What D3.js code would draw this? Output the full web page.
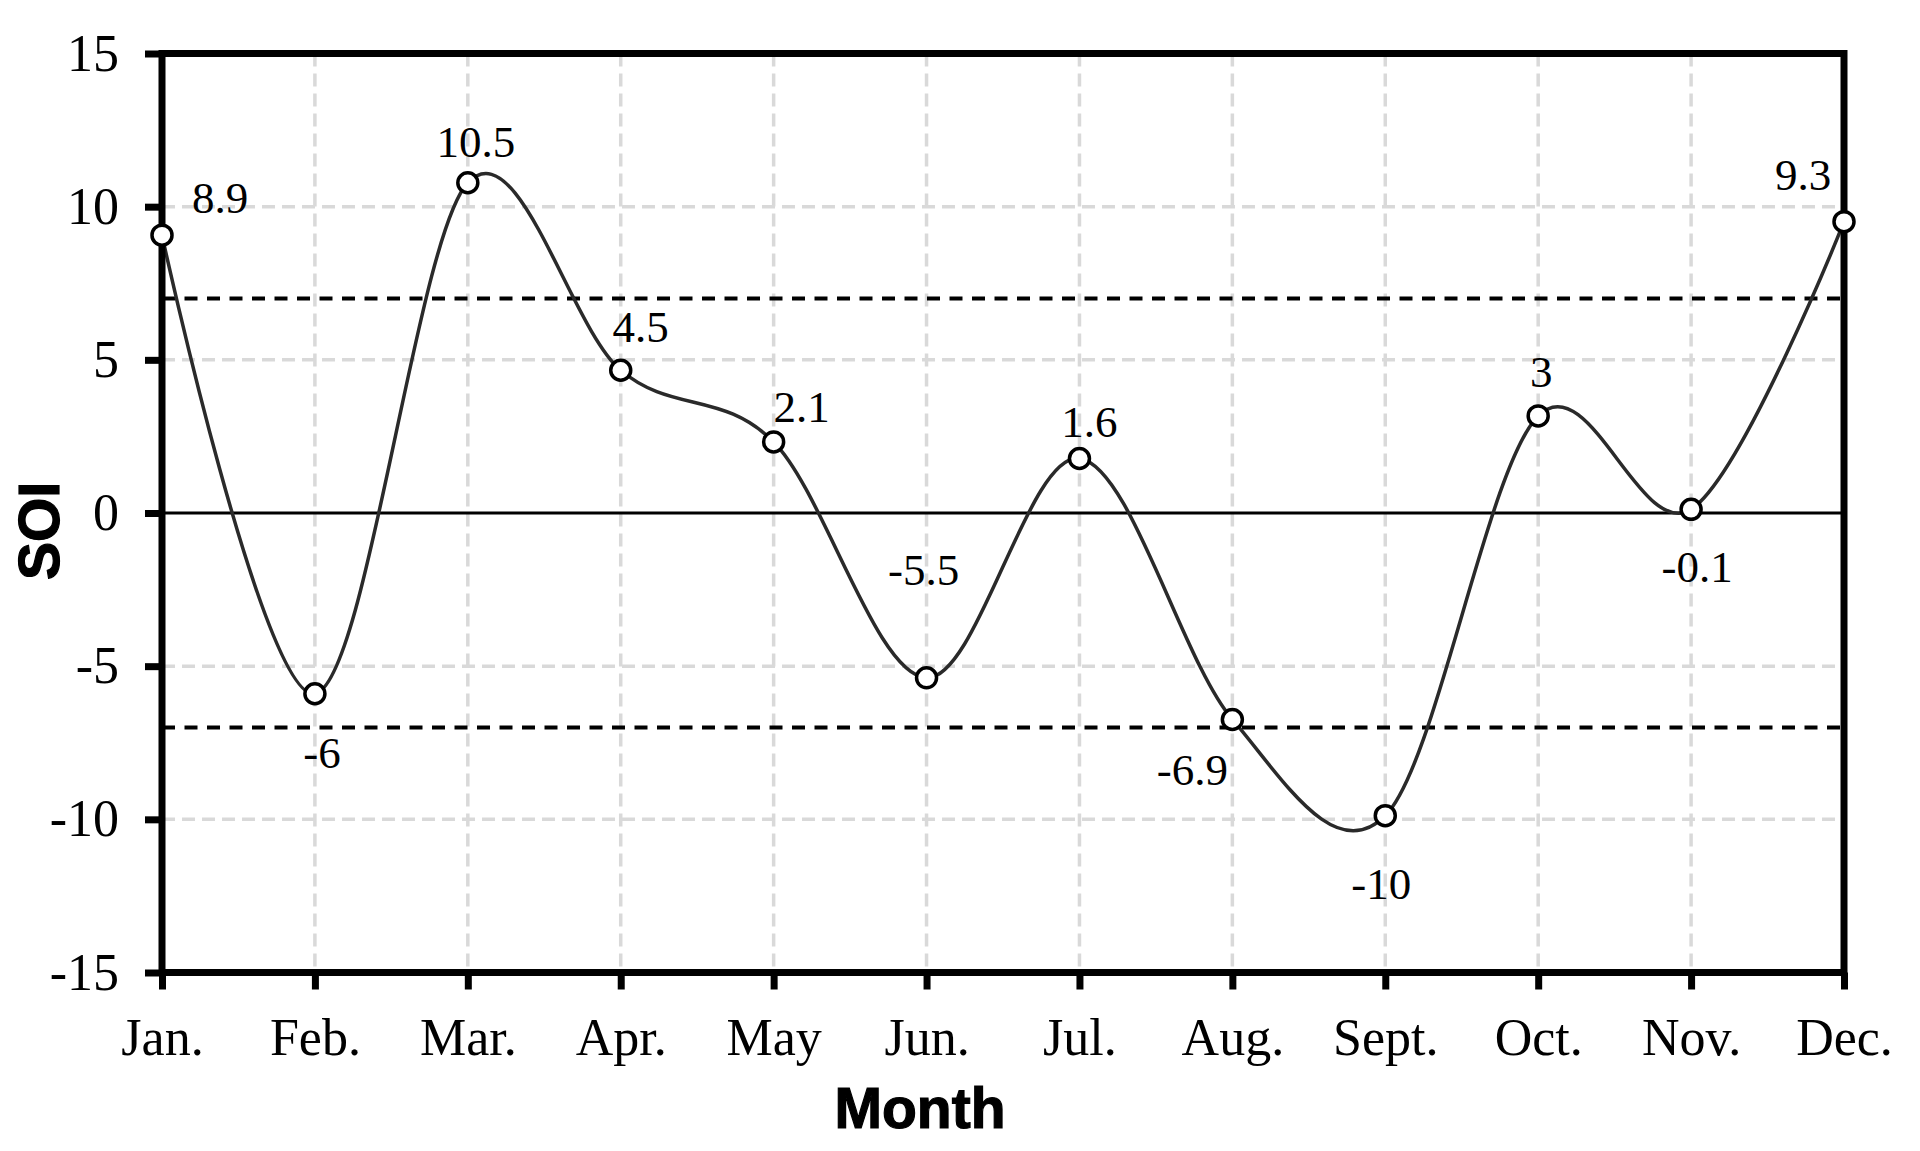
<!DOCTYPE html>
<html lang="en">
<head>
<meta charset="UTF-8">
<title>SOI by Month</title>
<script src="https://d3js.org/d3.v7.min.js"></script>
<style>
    body { margin: 0; background: #fff; }
    .tick text, .value-label {
        font-family: "Liberation Serif", "Times New Roman", serif;
        fill: #000;
    }
    .axis-title {
        font-family: "Liberation Sans", Arial, sans-serif;
        font-weight: bold;
        fill: #000;
        stroke: #000;
        stroke-width: 1.2px;
    }
</style>
</head>
<body>
<div id="chart"></div>
<script>
    const months = ["Jan.", "Feb.", "Mar.", "Apr.", "May", "Jun.", "Jul.", "Aug.", "Sept.", "Oct.", "Nov.", "Dec."];
    // plotted positions (they sit a little above the printed labels)
    const soi = [9.07, -5.90, 10.78, 4.66, 2.32, -5.38, 1.78, -6.74, -9.88, 3.17, 0.12, 9.51];
    const valueLabels = ["8.9", "-6", "10.5", "4.5", "2.1", "-5.5", "1.6", "-6.9", "-10", "3", "-0.1", "9.3"];
    const yTicks = [-15, -10, -5, 0, 5, 10, 15];
    const thresholds = [-7, 7];

    // where each value label sits relative to its point (dx, baseline dy)
    const labelOffsets = [[58, -22], [7, 74], [8, -26], [20, -28], [28, -20], [-3, -93],
                          [10, -21], [-40, 66], [-4, 83], [3, -29], [6, 73], [-41, -32]];

    const width = 1920, height = 1151;
    const plotLeft = 162, plotRight = 1844, plotTop = 53.5, plotBottom = 972.5;

    const svg = d3.select("#chart").append("svg")
        .attr("width", width)
        .attr("height", height);

    const x = d3.scalePoint().domain(months).range([plotLeft, plotRight]);
    const y = d3.scaleLinear().domain([-15, 15]).range([plotBottom, plotTop]);

    // light dashed grid
    svg.append("g").selectAll("line")
        .data(months.slice(1, -1))
        .join("line")
        .attr("x1", d => x(d)).attr("x2", d => x(d))
        .attr("y1", plotTop).attr("y2", plotBottom)
        .attr("stroke", "#d9d9d9").attr("stroke-width", 3.5)
        .attr("stroke-dasharray", "13,7");

    svg.append("g").selectAll("line")
        .data(yTicks.filter(d => d !== 0 && Math.abs(d) !== 15))
        .join("line")
        .attr("x1", plotLeft).attr("x2", plotRight)
        .attr("y1", d => y(d)).attr("y2", d => y(d))
        .attr("stroke", "#d9d9d9").attr("stroke-width", 3.5)
        .attr("stroke-dasharray", "13,7");

    // +/-7 thresholds
    svg.append("g").selectAll("line")
        .data(thresholds)
        .join("line")
        .attr("x1", plotLeft).attr("x2", plotRight)
        .attr("y1", d => y(d)).attr("y2", d => y(d))
        .attr("stroke", "#000").attr("stroke-width", 4)
        .attr("stroke-dasharray", "13,9.5");

    // zero line
    svg.append("line")
        .attr("x1", plotLeft).attr("x2", plotRight)
        .attr("y1", y(0)).attr("y2", y(0))
        .attr("stroke", "#000").attr("stroke-width", 3);

    // smoothed series
    const line = d3.line()
        .x((d, i) => x(months[i]))
        .y(d => y(d))
        .curve(d3.curveCardinal.tension(0));

    svg.append("path")
        .datum(soi)
        .attr("d", line)
        .attr("fill", "none")
        .attr("stroke", "#2a2a2a")
        .attr("stroke-width", 3.5);

    // frame
    svg.append("rect")
        .attr("x", plotLeft).attr("y", plotTop)
        .attr("width", plotRight - plotLeft).attr("height", plotBottom - plotTop)
        .attr("fill", "none")
        .attr("stroke", "#000")
        .attr("stroke-width", 7);

    svg.append("g").selectAll("circle")
        .data(soi)
        .join("circle")
        .attr("cx", (d, i) => x(months[i]))
        .attr("cy", d => y(d))
        .attr("r", 10)
        .attr("fill", "#fff")
        .attr("stroke", "#000")
        .attr("stroke-width", 3.5);

    // axes
    const yAxis = svg.append("g")
        .attr("transform", `translate(${plotLeft},0)`)
        .call(d3.axisLeft(y).tickValues(yTicks).tickFormat(d => String(d))
            .tickSize(17).tickPadding(26));
    yAxis.select(".domain").remove();
    yAxis.selectAll(".tick line").attr("stroke", "#000").attr("stroke-width", 7);
    yAxis.selectAll(".tick text").attr("font-size", 52).attr("dy", "0.32em");

    const xAxis = svg.append("g")
        .attr("transform", `translate(0,${plotBottom})`)
        .call(d3.axisBottom(x).tickSize(17));
    xAxis.select(".domain").remove();
    xAxis.selectAll(".tick line").attr("stroke", "#000").attr("stroke-width", 7);
    xAxis.selectAll(".tick text").attr("font-size", 52).attr("y", 82).attr("dy", null);

    // value labels
    svg.append("g").selectAll("text")
        .data(soi)
        .join("text")
        .attr("class", "value-label")
        .attr("x", (d, i) => x(months[i]) + labelOffsets[i][0])
        .attr("y", (d, i) => y(d) + labelOffsets[i][1])
        .attr("text-anchor", "middle")
        .attr("font-size", 45)
        .text((d, i) => valueLabels[i]);

    // titles
    svg.append("text")
        .attr("class", "axis-title")
        .attr("x", 920).attr("y", 1128)
        .attr("text-anchor", "middle")
        .attr("font-size", 57)
        .text("Month");

    svg.append("text")
        .attr("class", "axis-title")
        .attr("transform", "translate(59,531) rotate(-90)")
        .attr("text-anchor", "middle")
        .attr("font-size", 57)
        .text("SOI");
</script>
</body>
</html>
